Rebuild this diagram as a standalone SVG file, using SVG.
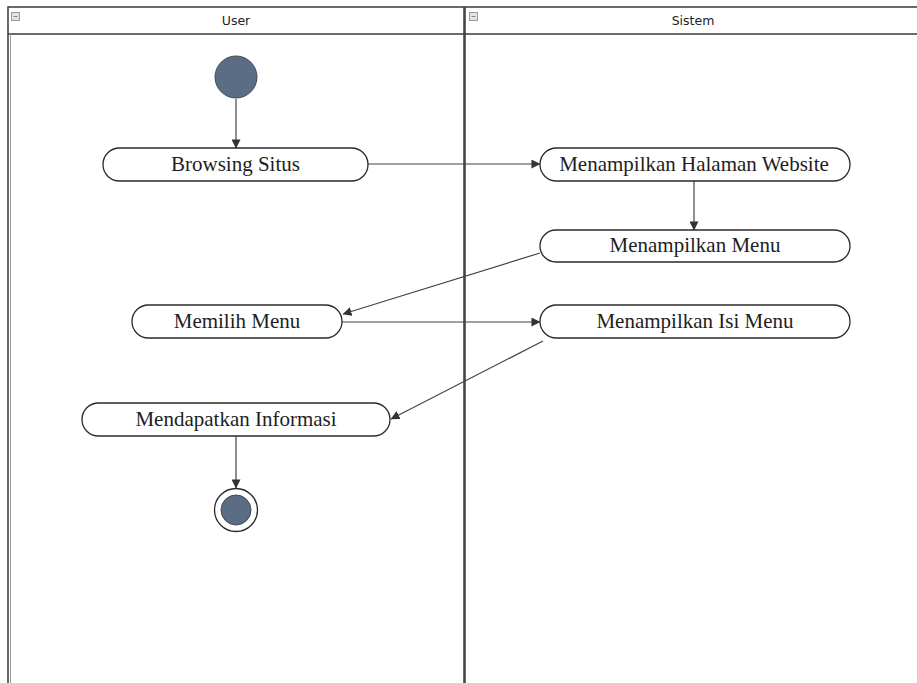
<svg xmlns="http://www.w3.org/2000/svg" width="917" height="683" viewBox="0 0 917 683">
  <defs>
    <marker id="arrow" viewBox="0 0 10 10" refX="9.5" refY="5" markerWidth="9" markerHeight="9" markerUnits="userSpaceOnUse" orient="auto">
      <path d="M0,0 L10,5 L0,10 Z" fill="#333"/>
    </marker>
    <style>
      .lane { fill: #fff; stroke: #3a3a3a; stroke-width: 1.5; }
      .hdr { font-family: "DejaVu Sans", "Liberation Sans", sans-serif; font-size: 12.5px; fill: #222; text-anchor: middle; }
      .icon { fill: #e2e2e2; stroke: #9a9a9a; stroke-width: 1; }
      .act { fill: #fff; stroke: #2a2a2a; stroke-width: 1.3; }
      .lbl { font-family: "Liberation Serif", "Times New Roman", serif; font-size: 21px; fill: #1e1e1e; text-anchor: middle; }
      .edge { fill: none; stroke: #444; stroke-width: 1.2; marker-end: url(#arrow); }
      .dot { fill: #5b6d85; stroke: #3f4c5c; stroke-width: 1; }
    </style>
  </defs>

  <rect width="917" height="683" fill="#fff"/>

  <!-- swimlanes -->
  <g id="lane-user">
    <rect class="lane" x="8" y="7" width="456" height="690"/>
    <line x1="8" y1="34" x2="464" y2="34" stroke="#3a3a3a" stroke-width="1.5"/>
    <line x1="10.5" y1="34" x2="10.5" y2="697" stroke="#9a9a9a" stroke-width="1"/>
    <rect class="icon" x="11.5" y="12.5" width="8" height="8"/>
    <line x1="13.5" y1="16.5" x2="17.5" y2="16.5" stroke="#888" stroke-width="1"/>
    <text class="hdr" x="236" y="25">User</text>
  </g>
  <g id="lane-sistem">
    <rect class="lane" x="465" y="7" width="460" height="690"/>
    <line x1="465" y1="34" x2="925" y2="34" stroke="#3a3a3a" stroke-width="1.5"/>
    <rect class="icon" x="469.5" y="12.5" width="8" height="8"/>
    <line x1="471.5" y1="16.5" x2="475.5" y2="16.5" stroke="#888" stroke-width="1"/>
    <text class="hdr" x="693" y="25">Sistem</text>
  </g>

  <!-- connectors -->
  <g id="connectors">
    <line class="edge" x1="236" y1="99" x2="236" y2="148"/>
    <line class="edge" x1="368" y1="164" x2="540" y2="164"/>
    <line class="edge" x1="694" y1="181" x2="694" y2="230"/>
    <line class="edge" x1="540" y1="253" x2="343" y2="314"/>
    <line class="edge" x1="342" y1="322" x2="540" y2="322"/>
    <line class="edge" x1="543" y1="341" x2="391" y2="419"/>
    <line class="edge" x1="236" y1="436" x2="236" y2="488"/>
  </g>

  <!-- nodes -->
  <g id="start">
    <circle class="dot" cx="236" cy="77" r="21"/>
  </g>
  <g id="browsing-situs">
    <rect class="act" x="103" y="148" width="265" height="33" rx="16.5"/>
    <text class="lbl" x="235.5" y="171">Browsing Situs</text>
  </g>
  <g id="menampilkan-halaman-website">
    <rect class="act" x="540" y="148" width="310" height="33" rx="16.5"/>
    <text class="lbl" x="694" y="171">Menampilkan Halaman Website</text>
  </g>
  <g id="menampilkan-menu">
    <rect class="act" x="540" y="230" width="310" height="32" rx="16"/>
    <text class="lbl" x="695" y="252">Menampilkan Menu</text>
  </g>
  <g id="memilih-menu">
    <rect class="act" x="132" y="305" width="210" height="33" rx="16.5"/>
    <text class="lbl" x="237" y="328">Memilih Menu</text>
  </g>
  <g id="menampilkan-isi-menu">
    <rect class="act" x="540" y="305" width="310" height="33" rx="16.5"/>
    <text class="lbl" x="695" y="328">Menampilkan Isi Menu</text>
  </g>
  <g id="mendapatkan-informasi">
    <rect class="act" x="82" y="403" width="308" height="33" rx="16.5"/>
    <text class="lbl" x="236" y="426">Mendapatkan Informasi</text>
  </g>
  <g id="end">
    <circle cx="236" cy="510" r="21.5" fill="#fff" stroke="#2a2a2a" stroke-width="1.3"/>
    <circle class="dot" cx="236" cy="510" r="15"/>
  </g>
</svg>
